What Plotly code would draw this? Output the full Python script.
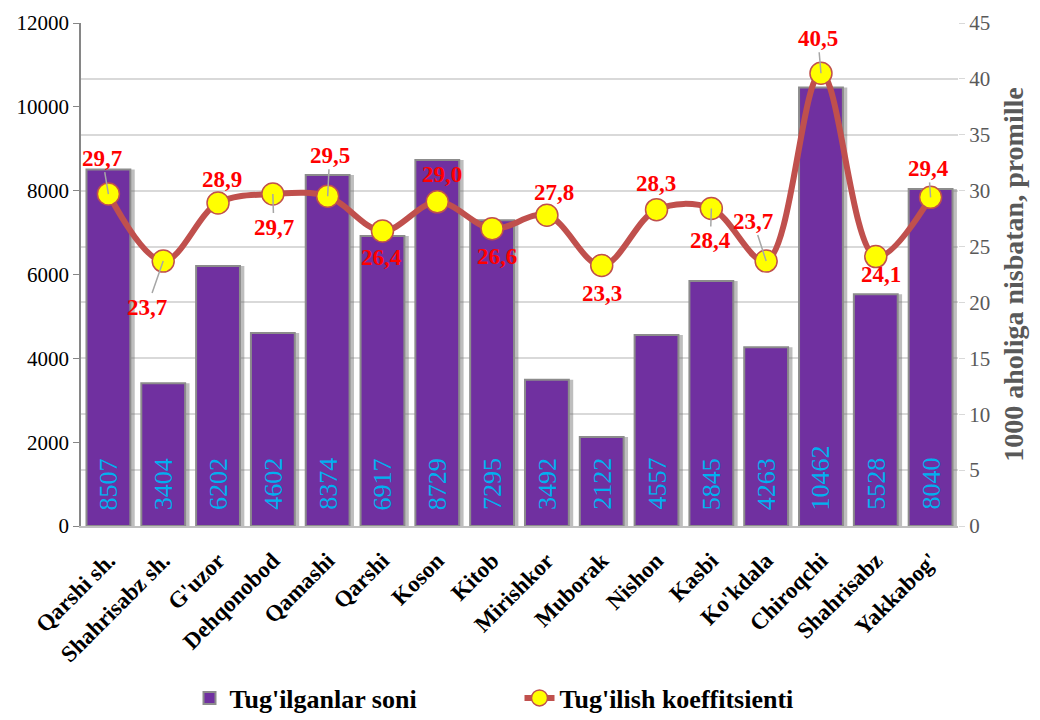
import plotly.graph_objects as go

categories = ["Qarshi sh.", "Shahrisabz sh.", "G'uzor", "Dehqonobod", "Qamashi", "Qarshi",
              "Koson", "Kitob", "Mirishkor", "Muborak", "Nishon", "Kasbi", "Ko'kdala",
              "Chiroqchi", "Shahrisabz", "Yakkabog'"]
births = [8507, 3404, 6202, 4602, 8374, 6917, 8729, 7295, 3492, 2122, 4557, 5845, 4263,
          10462, 5528, 8040]
rate = [29.7, 23.7, 28.9, 29.7, 29.5, 26.4, 29.0, 26.6, 27.8, 23.3, 28.3, 28.4, 23.7,
        40.5, 24.1, 29.4]
rate_labels = ["29,7", "23,7", "28,9", "29,7", "29,5", "26,4", "29,0", "26,6", "27,8",
               "23,3", "28,3", "28,4", "23,7", "40,5", "24,1", "29,4"]

# label offsets (px) from marker centre, and whether a leader line is shown
label_dx = [-6, -16, 4, 1, 2, -1, 5, 5, 7, 0, -1, -1, -13, -3, 5, -2]
label_dy = [-36, 46, -23, 33, -41, 27, -27, 28, -23, 28, -26, 32, -40, -35, 18, -29]
leader = [True, True, False, True, True, False, False, False, False, False, False, True,
          True, True, False, True]

FONT = "Liberation Serif"

fig = go.Figure()
# soft drop shadow behind the bars
fig.add_trace(go.Bar(
    x=categories, y=births, showlegend=False, hoverinfo="skip",
    width=0.8, offset=-0.4 + 0.08,
    marker=dict(color="rgba(110,110,110,0.45)", line=dict(width=0)),
    yaxis="y",
))
fig.add_trace(go.Bar(
    x=categories, y=births, name="Tug'ilganlar soni",
    width=0.8, offset=-0.4,
    marker=dict(color="#7030A0", line=dict(color="#8C8C8C", width=2)),
    yaxis="y",
))
fig.add_trace(go.Scatter(
    x=categories, y=rate, name="Tug'ilish koeffitsienti", yaxis="y2",
    mode="lines+markers",
    line=dict(color="#C0504D", width=6, shape="spline", smoothing=1.0),
    marker=dict(color="#FFFF00", size=22, line=dict(color="#C0504D", width=1.5)),
))

annotations = []
for c, b in zip(categories, births):
    annotations.append(dict(
        x=c, y=0, xref="x", yref="y", text=str(b), showarrow=False,
        textangle=-90, yanchor="bottom", xanchor="center", yshift=14,
        font=dict(family=FONT, size=26, color="#00B0F0"),
    ))
for c, r, t, dx, dy, ld in zip(categories, rate, rate_labels, label_dx, label_dy, leader):
    annotations.append(dict(
        x=c, y=r, xref="x", yref="y2", text="<b>%s</b>" % t,
        showarrow=True, ax=dx, ay=dy, arrowhead=0, arrowwidth=1.5,
        arrowcolor="#A6A6A6" if ld else "rgba(0,0,0,0)", standoff=0,
        font=dict(family=FONT, size=23, color="#FF0000"),
    ))

fig.update_layout(
    width=1040, height=720,
    margin=dict(l=73, r=90, t=15, b=202, autoexpand=False),
    plot_bgcolor="white", paper_bgcolor="white",
    font=dict(family=FONT, color="black"),
    barmode="overlay",
    showlegend=True,
    legend=dict(orientation="h", x=0.5, xanchor="center", y=-0.342, yanchor="middle",
                font=dict(family=FONT, size=26, color="black", weight="bold"),
                entrywidth=285, traceorder="normal"),
    xaxis=dict(range=[-0.5, len(categories) - 0.5], tickangle=-45,
               tickfont=dict(family=FONT, size=23, color="black", weight="bold"),
               ticklabelstandoff=10,
               showline=True, linecolor="#BFBFBF", linewidth=2, showgrid=False,
               ticks="", automargin=False),
    yaxis=dict(range=[0, 12000], dtick=2000, tickformat="d", showgrid=False, showline=True,
               linecolor="#868686", linewidth=1.5, ticks="outside", ticklen=6,
               tickcolor="#868686", tickfont=dict(family=FONT, size=21, color="black"),
               zeroline=False, automargin=False),
    yaxis2=dict(range=[0, 45], dtick=5, overlaying="y", side="right", showgrid=True,
                gridcolor="#D9D9D9", gridwidth=1.5, showline=False, zeroline=False,
                ticks="outside", ticklen=6, tickcolor="#D9D9D9",
                tickfont=dict(family=FONT, size=21, color="#595959"),
                title=dict(text="<b>1000 aholiga nisbatan, promille</b>",
                           font=dict(family=FONT, size=28, color="#595959"), standoff=14),
                automargin=False),
    annotations=annotations,
)

fig.write_html("out.html")
